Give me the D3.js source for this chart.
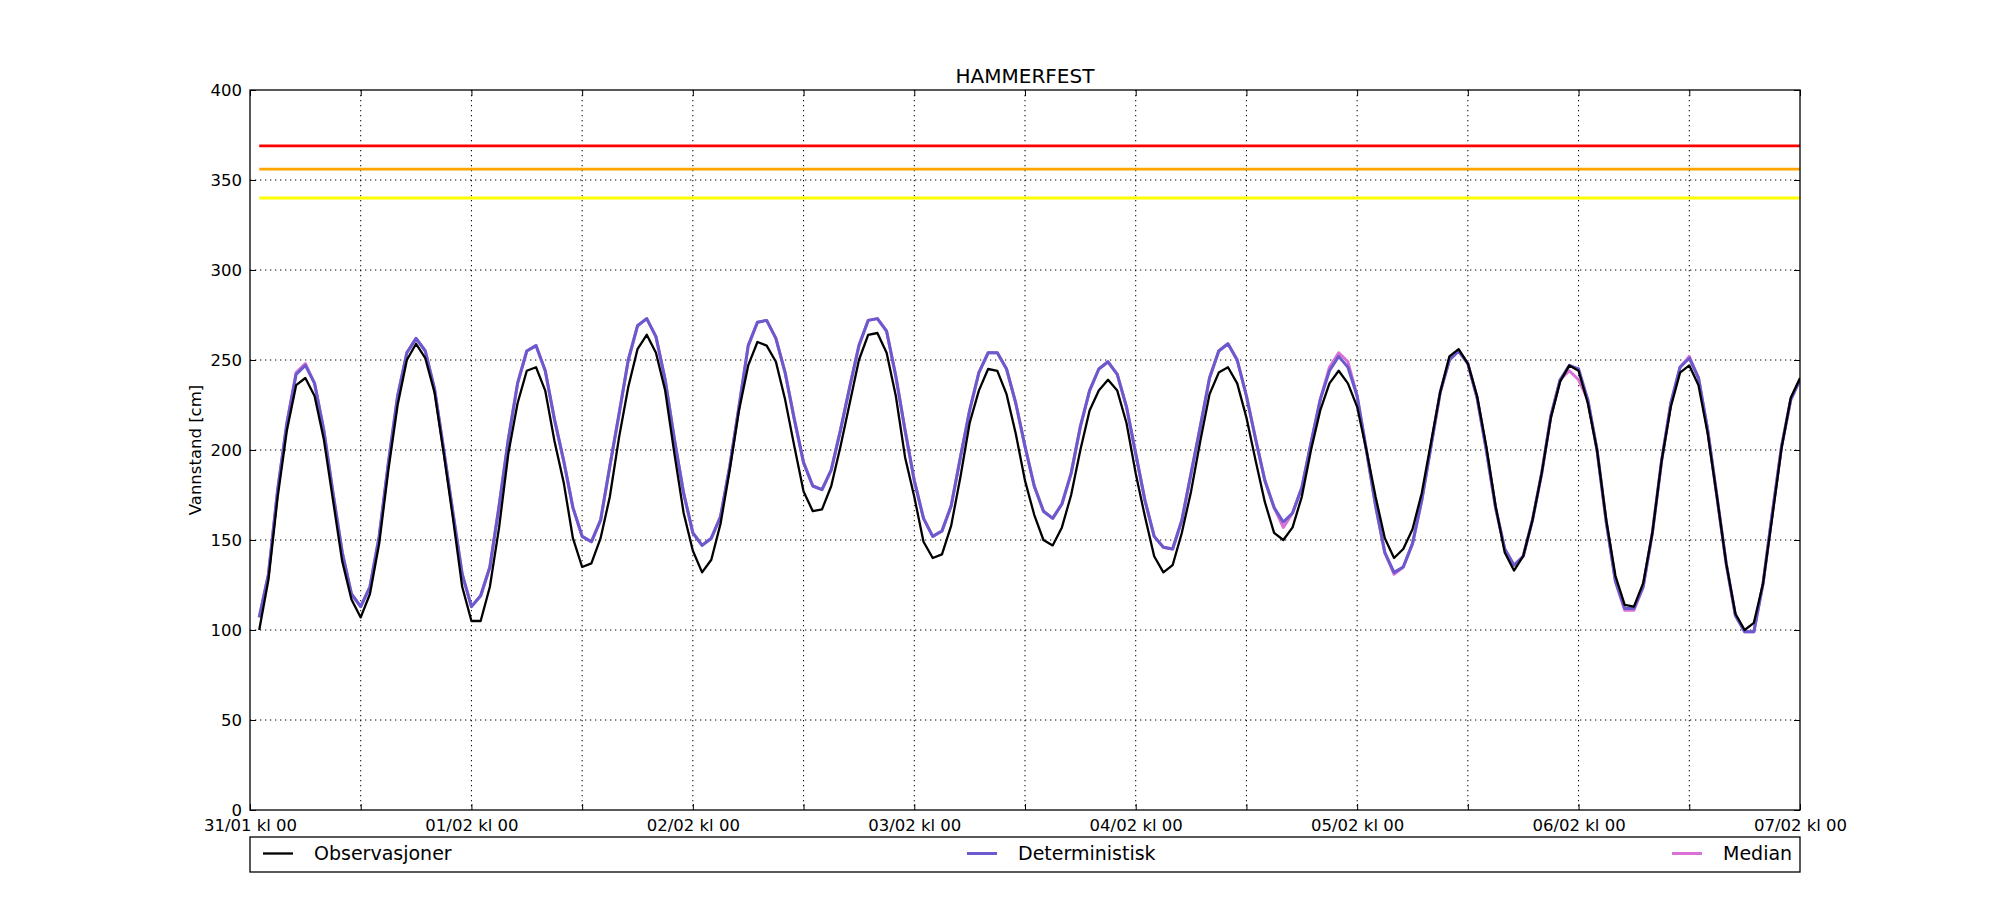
<!DOCTYPE html>
<html>
<head>
<meta charset="utf-8">
<script src="https://cdn.jsdelivr.net/npm/d3@7"></script>
<style>
    body { margin: 0; background: #fff; }
    text { font-family: "DejaVu Sans", sans-serif; fill: #000; }
</style>
</head>
<body>
<svg id="chart"></svg>
<script>
// hourly values, first point is 31/01 kl 01
const observasjoner = [
    100, 128, 174, 211, 236, 240, 230, 206, 172, 138, 117, 107,
    120, 148, 189, 225, 250, 259, 251, 232, 198, 162, 124, 105,
    105, 124, 157, 198, 226, 244, 246, 233, 205, 182, 151, 135,
    137, 151, 174, 207, 235, 256, 264, 254, 233, 198, 165, 144,
    132, 139, 159, 189, 222, 247, 260, 258, 249, 228, 202, 177,
    166, 167, 180, 202, 226, 250, 264, 265, 254, 230, 196, 174,
    149, 140, 142, 158, 185, 215, 233, 245, 244, 231, 209, 183,
    164, 150, 147, 157, 175, 200, 222, 233, 239, 233, 215, 187,
    163, 141, 132, 136, 154, 177, 205, 231, 243, 246, 237, 218,
    194, 171, 154, 150, 157, 174, 200, 222, 237, 244, 237, 224,
    200, 174, 151, 140, 145, 156, 176, 204, 232, 252, 256, 248,
    230, 202, 169, 143, 133, 141, 161, 187, 218, 238, 247, 244,
    226, 200, 161, 130, 114, 113, 126, 154, 194, 224, 243, 247,
    236, 209, 174, 137, 109, 100, 104, 126, 163, 201, 229, 240
];

const deterministisk = [
    107, 131, 178, 215, 242, 247, 237, 211, 176, 143, 120, 113,
    124, 152, 193, 230, 254, 262, 255, 234, 200, 165, 131, 113,
    119, 135, 169, 206, 237, 255, 258, 244, 217, 194, 168, 152,
    149, 161, 191, 220, 250, 269, 273, 263, 239, 206, 176, 154,
    147, 151, 163, 191, 224, 258, 271, 272, 262, 243, 217, 193,
    180, 178, 189, 211, 235, 258, 272, 273, 266, 241, 211, 183,
    162, 152, 155, 169, 196, 222, 243, 254, 254, 245, 226, 202,
    180, 166, 162, 170, 187, 213, 233, 245, 249, 242, 224, 198,
    172, 152, 146, 145, 161, 187, 213, 240, 255, 259, 250, 230,
    206, 183, 168, 160, 165, 179, 204, 228, 244, 252, 246, 230,
    200, 169, 143, 132, 135, 148, 172, 202, 232, 250, 255, 248,
    229, 200, 168, 145, 136, 141, 161, 187, 219, 239, 247, 245,
    228, 200, 160, 127, 112, 112, 124, 154, 194, 226, 246, 251,
    240, 211, 174, 137, 108, 99, 99, 126, 165, 202, 228, 239
];

const median = [
    107, 131, 178, 215, 243, 248, 237, 211, 176, 143, 120, 113,
    124, 152, 193, 230, 254, 262, 255, 234, 200, 165, 131, 113,
    119, 135, 169, 206, 237, 255, 258, 244, 217, 194, 168, 152,
    149, 161, 191, 220, 250, 269, 273, 263, 239, 206, 176, 154,
    147, 151, 163, 191, 224, 258, 271, 272, 262, 243, 217, 193,
    180, 178, 189, 211, 235, 258, 272, 273, 266, 241, 211, 183,
    162, 152, 155, 169, 196, 222, 243, 254, 254, 245, 226, 202,
    180, 166, 162, 170, 187, 213, 233, 245, 249, 242, 224, 198,
    172, 152, 146, 145, 161, 187, 213, 240, 255, 259, 250, 230,
    206, 183, 168, 157, 165, 179, 204, 228, 246, 254, 249, 230,
    200, 169, 143, 131, 135, 148, 172, 202, 232, 250, 255, 248,
    229, 200, 168, 145, 136, 141, 161, 187, 219, 239, 244, 239,
    228, 200, 160, 127, 111, 111, 124, 154, 194, 226, 246, 252,
    240, 211, 174, 137, 108, 99, 99, 126, 165, 202, 228, 239
];

const terskler = [
    { value: 369, color: '#ff0000' },
    { value: 356, color: '#ffa500' },
    { value: 340, color: '#ffff00' }
];

const xTickLabels = ['31/01 kl 00', '01/02 kl 00', '02/02 kl 00', '03/02 kl 00',
    '04/02 kl 00', '05/02 kl 00', '06/02 kl 00', '07/02 kl 00'];
const yTicks = [0, 50, 100, 150, 200, 250, 300, 350, 400];

const seriesNames = ['Observasjoner', 'Deterministisk', 'Median'];
const firstHour = 1;
const totalHours = 168;

const width = 2000, height = 900;
const margin = { top: 90, right: 200, bottom: 90, left: 250 };
const innerWidth = width - margin.left - margin.right;
const innerHeight = height - margin.top - margin.bottom;

const svg = d3.select('#chart')
    .attr('width', width)
    .attr('height', height);

const chart = svg.append('g')
    .attr('transform', `translate(${margin.left}, ${margin.top})`);

const xscale = d3.scaleLinear().domain([0, totalHours]).range([0, innerWidth]);
const yscale = d3.scaleLinear().domain([0, 400]).range([innerHeight, 0]);

svg.append('defs').append('clipPath').attr('id', 'plotclip')
    .append('rect').attr('width', innerWidth).attr('height', innerHeight);

// dotted grid
const xGridTicks = d3.range(0, totalHours + 1, 12);
chart.append('g').selectAll('line')
    .data(xGridTicks.slice(1, -1))
    .join('line')
    .attr('x1', d => xscale(d)).attr('x2', d => xscale(d))
    .attr('y1', 0).attr('y2', innerHeight)
    .attr('stroke', '#000').attr('stroke-width', 1)
    .attr('stroke-dasharray', '1.3,3.7');

chart.append('g').selectAll('line')
    .data(yTicks.slice(1, -1))
    .join('line')
    .attr('x1', 0).attr('x2', innerWidth)
    .attr('y1', d => yscale(d)).attr('y2', d => yscale(d))
    .attr('stroke', '#000').attr('stroke-width', 1)
    .attr('stroke-dasharray', '1.3,3.7');

// threshold lines
chart.append('g').selectAll('line')
    .data(terskler)
    .join('line')
    .attr('x1', xscale(firstHour)).attr('x2', xscale(totalHours))
    .attr('y1', d => yscale(d.value)).attr('y2', d => yscale(d.value))
    .attr('stroke', d => d.color).attr('stroke-width', 2.8);

// series
const line = d3.line()
    .x((d, i) => xscale(firstHour + i))
    .y(d => yscale(d));

const plot = chart.append('g').attr('clip-path', 'url(#plotclip)');

plot.append('path').datum(median)
    .attr('d', line).attr('fill', 'none')
    .attr('stroke', '#da70d6').attr('stroke-width', 3)
    .attr('stroke-linejoin', 'round');

plot.append('path').datum(deterministisk)
    .attr('d', line).attr('fill', 'none')
    .attr('stroke', '#6a5acd').attr('stroke-width', 3)
    .attr('stroke-linejoin', 'round');

plot.append('path').datum(observasjoner)
    .attr('d', line).attr('fill', 'none')
    .attr('stroke', '#000').attr('stroke-width', 2.3)
    .attr('stroke-linejoin', 'round');

// axes, ticks pointing inward like the old matplotlib style
const xaxis = d3.axisBottom(xscale)
    .tickValues(xGridTicks)
    .tickSize(-6)
    .tickSizeOuter(0)
    .tickPadding(9)
    .tickFormat(d => d % 24 === 0 ? xTickLabels[d / 24] : '');

const xaxisTop = d3.axisTop(xscale)
    .tickValues(xGridTicks).tickSize(-6).tickSizeOuter(0).tickFormat('');

const yaxis = d3.axisLeft(yscale)
    .tickValues(yTicks)
    .tickSize(-6)
    .tickSizeOuter(0)
    .tickPadding(8);

const yaxisRight = d3.axisRight(yscale)
    .tickValues(yTicks).tickSize(-6).tickSizeOuter(0).tickFormat('');

const styleAxis = g => {
    g.select('.domain').remove();
    g.selectAll('.tick line').attr('stroke', '#000');
    g.selectAll('.tick text')
        .filter(function () { return this.textContent === ''; })
        .remove();
    g.selectAll('.tick text')
        .style('font-family', '"DejaVu Sans", sans-serif')
        .style('font-size', '16.5px')
        .attr('fill', '#000');
};

chart.append('g').attr('transform', `translate(0, ${innerHeight})`).call(xaxis).call(styleAxis);
chart.append('g').call(xaxisTop).call(styleAxis);
chart.append('g').call(yaxis).call(styleAxis);
chart.append('g').attr('transform', `translate(${innerWidth}, 0)`).call(yaxisRight).call(styleAxis);

chart.append('rect')
    .attr('width', innerWidth).attr('height', innerHeight)
    .attr('fill', 'none').attr('stroke', '#000').attr('stroke-width', 1.3);

// title and label
svg.append('text')
    .attr('x', margin.left + innerWidth / 2)
    .attr('y', 83)
    .attr('text-anchor', 'middle')
    .style('font-size', '20px')
    .text('HAMMERFEST');

svg.append('text')
    .attr('transform', `translate(201, ${margin.top + innerHeight / 2}) rotate(-90)`)
    .attr('text-anchor', 'middle')
    .style('font-size', '16.5px')
    .text('Vannstand [cm]');

// legend below the plot, three columns spread over the full width
const legend = svg.append('g').attr('transform', `translate(${margin.left}, 837)`);
legend.append('rect')
    .attr('width', innerWidth).attr('height', 35)
    .attr('fill', '#fff').attr('stroke', '#000').attr('stroke-width', 1.3);

const legendItems = [
    { name: seriesNames[0], color: '#000', x: 13 },
    { name: seriesNames[1], color: '#6a5acd', x: 717 },
    { name: seriesNames[2], color: '#da70d6', x: 1422 }
];

const item = legend.selectAll('g.item')
    .data(legendItems)
    .join('g')
    .attr('class', 'item')
    .attr('transform', d => `translate(${d.x}, 16.5)`);

item.append('line')
    .attr('x1', 0).attr('x2', 30)
    .attr('stroke', d => d.color)
    .attr('stroke-width', d => d.color === '#000' ? 2.3 : 3);

item.append('text')
    .attr('x', 51).attr('y', 6.5)
    .style('font-size', '19px')
    .text(d => d.name);
</script>
</body>
</html>
